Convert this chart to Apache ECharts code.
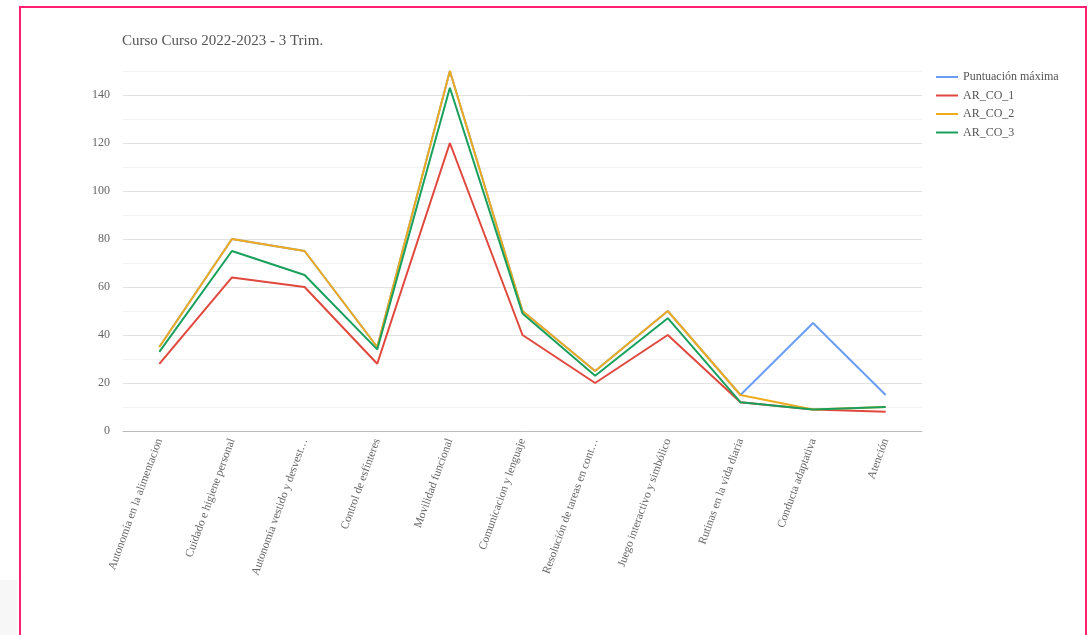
<!DOCTYPE html>
<html>
<head>
<meta charset="utf-8">
<script src="https://cdn.jsdelivr.net/npm/echarts@6/dist/echarts.min.js"></script>
<style>
  html, body { margin: 0; padding: 0; background: #ffffff; }
  #chart { position: absolute; left: 0; top: 0; width: 1092px; height: 635px; }
  #frame {
    position: absolute; left: 19px; top: 6px; width: 1064px; height: 700px;
    border: 2px solid #ff1f70; pointer-events: none;
  }
  #side { position: absolute; left: 0; top: 580px; width: 17px; height: 60px; background: #f7f7f7; }
</style>
</head>
<body>
<div id="side"></div>
<div id="chart"></div>
<div id="frame"></div>
<script>
const titleText = 'Curso Curso 2022-2023 - 3 Trim.';

const categories = [
  'Autonomía en la alimentacion',
  'Cuidado e higiene personal',
  'Autonomía vestido y desvest…',
  'Control de esfínteres',
  'Movilidad funcional',
  'Comunicacion y lenguaje',
  'Resolución de tareas en cont…',
  'Juego interactivo y simbólico',
  'Rutinas en la vida diaria',
  'Conducta adaptativa',
  'Atención'
];

const seriesNames = ['Puntuación máxima', 'AR_CO_1', 'AR_CO_2', 'AR_CO_3'];
const puntuacionMaxima = [35, 80, 75, 35, 150, 50, 25, 50, 15, 45, 15];
const arCo1 = [28, 64, 60, 28, 120, 40, 20, 40, 12, 9, 8];
const arCo2 = [35, 80, 75, 35, 150, 50, 25, 50, 15, 9, 10];
const arCo3 = [33, 75, 65, 34, 143, 49, 23, 47, 12, 9, 10];
const seriesColors = ['#6a9ef5', '#e0483e', '#eeab1c', '#18a05c'];

const serif = '"Liberation Serif", "DejaVu Serif", serif';

function lineSeries(name, data, color) {
  return {
    name: name,
    type: 'line',
    data: data,
    showSymbol: false,
    symbol: 'none',
    lineStyle: { width: 2, color: color },
    itemStyle: { color: color },
    emphasis: { disabled: true },
    animation: false
  };
}

const chart = echarts.init(document.getElementById('chart'), null, { renderer: 'canvas' });
chart.setOption({
  backgroundColor: 'transparent',
  title: {
    text: titleText,
    left: 117,
    top: 29,
    textStyle: { fontFamily: serif, fontSize: 15, fontWeight: 'normal', color: '#555555' }
  },
  legend: {
    orient: 'vertical',
    left: 931,
    top: 65,
    icon: 'rect',
    itemWidth: 22,
    itemHeight: 2,
    itemGap: 4.5,
    data: seriesNames,
    textStyle: { fontFamily: serif, fontSize: 12, color: '#555555', lineHeight: 14 }
  },
  grid: { left: 123, right: 170, top: 71, bottom: 204, containLabel: false },
  xAxis: {
    type: 'category',
    data: categories,
    boundaryGap: true,
    axisLine: { show: true, lineStyle: { color: '#bbbbbb', width: 1 } },
    axisTick: { show: false },
    axisLabel: {
      rotate: 70,
      margin: 8,
      interval: 0,
      fontFamily: serif,
      fontSize: 11.5,
      color: '#666666'
    },
    splitLine: { show: false }
  },
  yAxis: {
    type: 'value',
    min: 0,
    max: 150,
    interval: 10,
    axisLine: { show: false },
    axisTick: { show: false },
    axisLabel: {
      margin: 13,
      fontFamily: serif,
      fontSize: 12,
      color: '#666666',
      formatter: function (v) { return v % 20 === 0 ? String(v) : ''; }
    },
    splitLine: { show: true, lineStyle: { color: ['#e2e2e2', '#f3f3f3'], width: 1 } }
  },
  series: [
    lineSeries(seriesNames[0], puntuacionMaxima, seriesColors[0]),
    lineSeries(seriesNames[1], arCo1, seriesColors[1]),
    lineSeries(seriesNames[2], arCo2, seriesColors[2]),
    lineSeries(seriesNames[3], arCo3, seriesColors[3])
  ]
});
</script>
</body>
</html>
